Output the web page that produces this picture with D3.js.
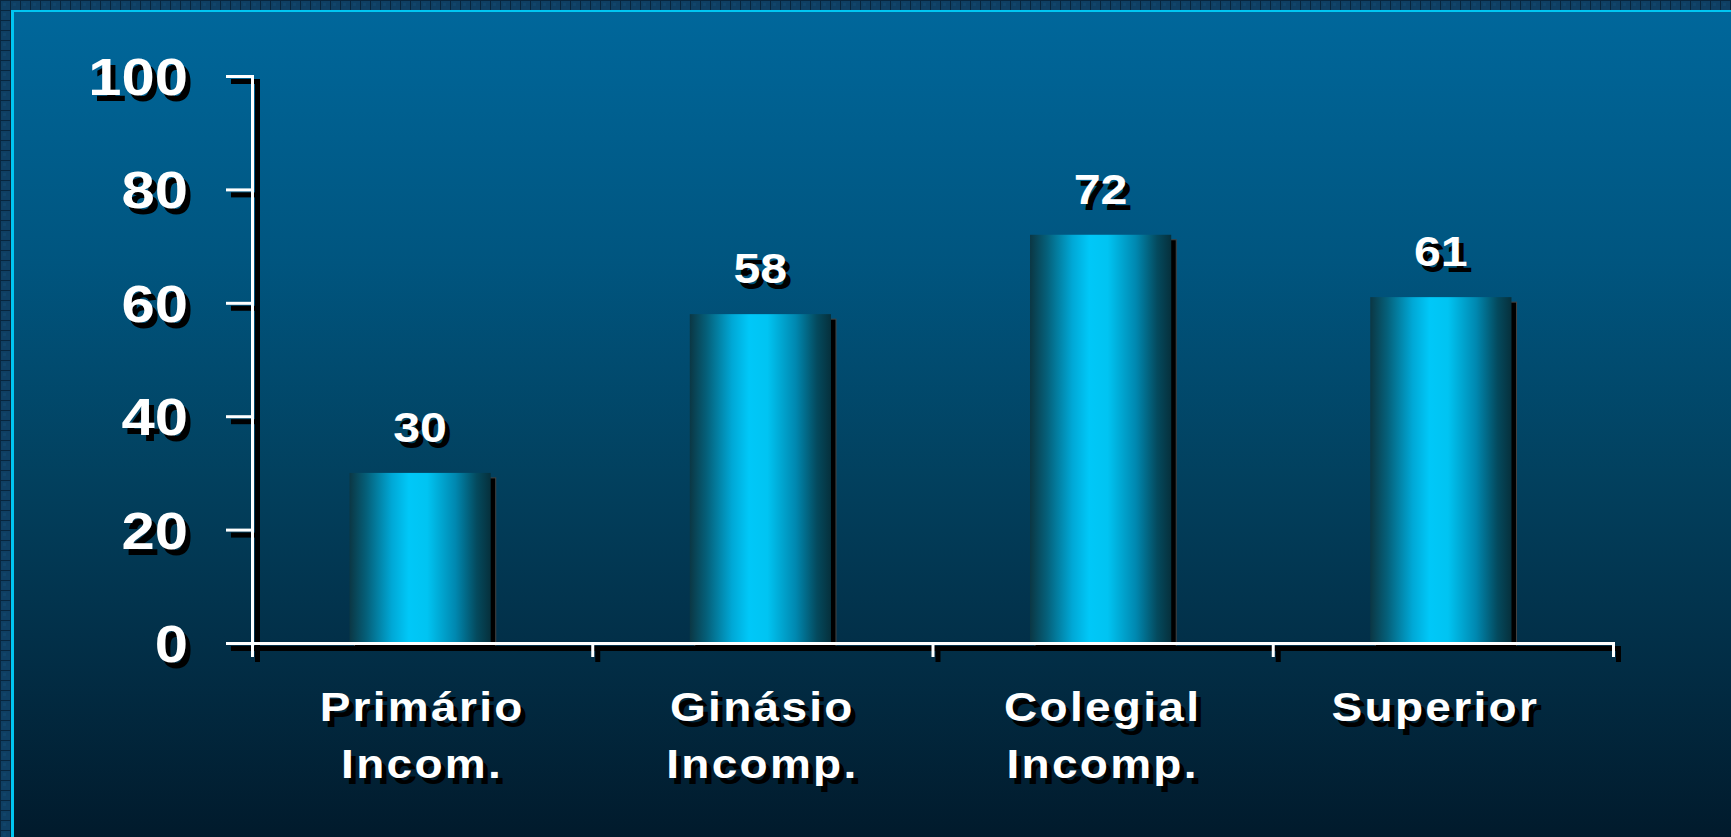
<!DOCTYPE html>
<html>
<head>
<meta charset="utf-8">
<script src="https://cdn.jsdelivr.net/npm/d3@7"></script>
<style>
  html, body { margin: 0; padding: 0; background: #0a2a44; }
  svg { display: block; }
  text { font-family: "Liberation Sans", Arial, sans-serif; font-weight: bold; }
</style>
</head>
<body>
<svg id="chart" width="1731" height="837"></svg>
<script>
// Chart data
const categories = ["Primário Incom.", "Ginásio Incomp.", "Colegial Incomp.", "Superior"];
const categoryLines = [["Primário", "Incom."], ["Ginásio", "Incomp."], ["Colegial", "Incomp."], ["Superior\u00a0"]];
const values = [30, 58, 72, 61];
const yTicks = [0, 20, 40, 60, 80, 100];

const W = 1731, H = 837;
const svg = d3.select("#chart");
const defs = svg.append("defs");

// Slide background: vertical blue fade
const bg = defs.append("linearGradient").attr("id", "bgGrad")
  .attr("x1", 0).attr("y1", 0).attr("x2", 0).attr("y2", 1);
[[0, "#00679b"], [0.3, "#00557f"], [0.55, "#02415f"], [0.78, "#022d45"], [1, "#01192a"]]
  .forEach(([o, c]) => bg.append("stop").attr("offset", o).attr("stop-color", c));

// Cylinder-like horizontal shading for bars
const barGrad = defs.append("linearGradient").attr("id", "barGrad")
  .attr("x1", 0).attr("y1", 0).attr("x2", 1).attr("y2", 0);
[[0, "#0b3744"], [0.12, "#05607a"], [0.3, "#00a8d6"], [0.42, "#00c8f8"], [0.55, "#00c4f2"],
 [0.75, "#0088b0"], [0.9, "#044a5e"], [1, "#06303c"]]
  .forEach(([o, c]) => barGrad.append("stop").attr("offset", o).attr("stop-color", c));

// Checkered frame pattern
const pat = defs.append("pattern").attr("id", "framePat")
  .attr("width", 10).attr("height", 10).attr("patternUnits", "userSpaceOnUse");
pat.append("rect").attr("width", 10).attr("height", 10).attr("fill", "#08253d");
pat.append("rect").attr("x", 1).attr("y", 1).attr("width", 9).attr("height", 9).attr("fill", "#0f3f63");
pat.append("rect").attr("x", 3).attr("y", 3).attr("width", 3).attr("height", 3).attr("fill", "#124a70").attr("opacity", 0.6);

svg.append("rect").attr("width", W).attr("height", H).attr("fill", "url(#framePat)");
svg.append("rect").attr("x", 11).attr("y", 10).attr("width", W).attr("height", H)
  .attr("fill", "#00c6f2");
svg.append("rect").attr("x", 14).attr("y", 12).attr("width", W).attr("height", H)
  .attr("fill", "url(#bgGrad)");

// Scales
const x = d3.scaleBand().domain(categories).range([252, 1613])
  .paddingInner(0.585).paddingOuter(0.2925);
const y = d3.scaleLinear().domain([0, 100]).range([643, 76]);

const SX = 1.15; // slide text is drawn horizontally stretched

// Text with a hard black drop shadow (black copy underneath, white on top)
function shadowText(g, tx, ty, str, opts) {
  const grp = g.append("g").attr("transform", `translate(${tx},${ty}) scale(${SX},1)`);
  [["#000", 5 / SX, 6], ["#fff", 0, 0]].forEach(([fill, dx, dy]) => {
    grp.append("text")
      .attr("x", dx).attr("y", dy)
      .attr("text-anchor", opts.anchor || "middle")
      .attr("font-size", opts.size)
      .attr("letter-spacing", opts.spacing || 0)
      .attr("fill", fill)
      .text(str);
  });
  return grp;
}

// Bars: drop shadow then shaded face
const barX = c => x(c) - 2;
const bars = svg.append("g");
bars.selectAll("rect.shadow").data(values).join("rect")
  .attr("class", "shadow")
  .attr("x", (d, i) => barX(categories[i]) + 5)
  .attr("y", d => y(d) + 5)
  .attr("width", x.bandwidth())
  .attr("height", d => y(0) - y(d))
  .attr("fill", "#000").attr("stroke", "#444").attr("stroke-width", 1);
bars.selectAll("rect.face").data(values).join("rect")
  .attr("class", "face")
  .attr("x", (d, i) => barX(categories[i]))
  .attr("y", d => y(d))
  .attr("width", x.bandwidth())
  .attr("height", d => y(0) - y(d))
  .attr("fill", "url(#barGrad)");

// Axes (shadow copy, then white copy)
function drawAxes(offX, offY, color, width) {
  const g = svg.append("g").attr("transform", `translate(${offX},${offY})`);
  const yAxis = d3.axisLeft(y).tickValues(yTicks).tickSize(26).tickSizeOuter(26).tickFormat("");
  const ya = g.append("g").attr("transform", `translate(${x.range()[0]},0)`).call(yAxis);
  ya.selectAll("path, line").attr("stroke", color).attr("stroke-width", width);

  // Category boundaries on the x axis
  const xb = d3.scaleLinear().domain([0, categories.length]).range([x.range()[0], x.range()[1]]);
  const xAxis = d3.axisBottom(xb).tickValues(d3.range(categories.length + 1))
    .tickSize(14).tickSizeOuter(14).tickFormat("");
  const xa = g.append("g").attr("transform", `translate(0,${y(0)})`).call(xAxis);
  xa.selectAll("path, line").attr("stroke", color).attr("stroke-width", width);
  g.selectAll("text").remove();
}
drawAxes(5, 5, "#000", 5);
drawAxes(0, 0, "#fff", 3);

// Y tick labels
const yl = svg.append("g");
yTicks.forEach(t => {
  shadowText(yl, 188, y(t) + 19, String(t), { size: 52, anchor: "end" });
});

// Value labels above bars
const vl = svg.append("g");
values.forEach((v, i) => {
  shadowText(vl, barX(categories[i]) + x.bandwidth() / 2, y(v) - 31, String(v), { size: 42 });
});

// Category labels
const cl = svg.append("g");
categoryLines.forEach((lines, i) => {
  const cx = x(categories[i]) + x.bandwidth() / 2;
  lines.forEach((ln, j) => {
    shadowText(cl, cx, 721 + j * 57, ln, { size: 40, spacing: 2 });
  });
});
</script>
</body>
</html>
